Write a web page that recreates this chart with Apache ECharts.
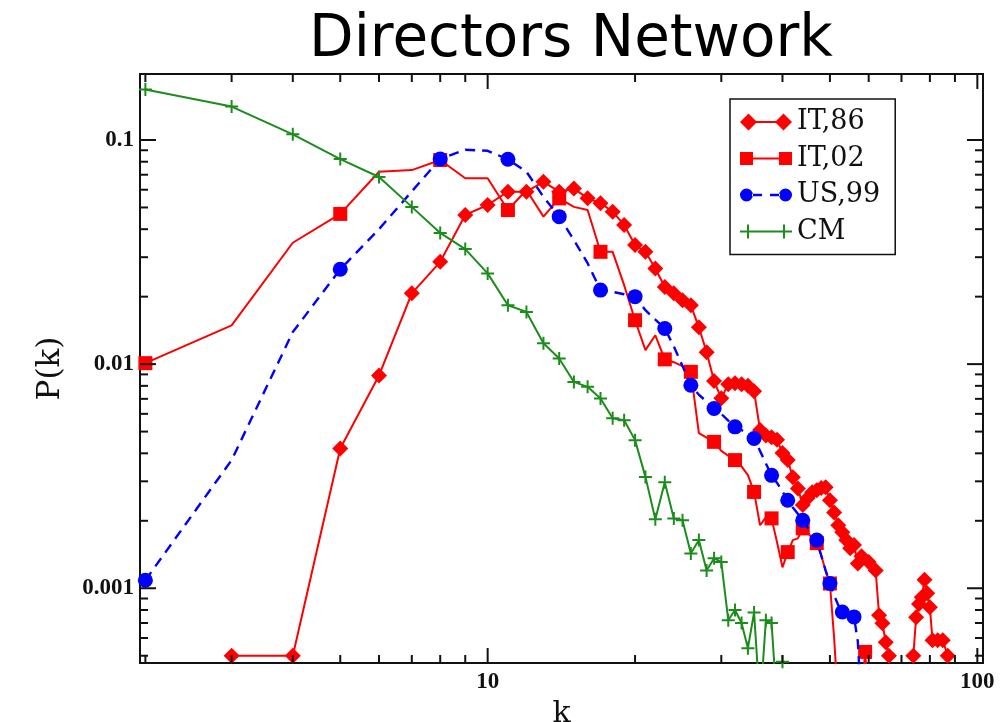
<!DOCTYPE html>
<html>
<head>
<meta charset="utf-8">
<title>Directors Network</title>
<script src="https://cdn.jsdelivr.net/npm/echarts@6/dist/echarts.min.js"></script>
<style>
  html, body { margin: 0; padding: 0; background: #ffffff; }
  #chart { width: 1003px; height: 722px; }
</style>
</head>
<body>
<div id="chart"></div>
<script>
// Degree distributions P(k) of board-of-directors networks (log-log).
const chartTitle = 'Directors Network';
const xAxisName = 'k';
const yAxisName = 'P(k)';
const seriesNames = ['IT,86', 'IT,02', 'US,99', 'CM'];

// [k, P(k)] pairs; '-' marks a gap in the curve
const it86 = [
  [3, 0.0005], [4, 0.0005], [5, 0.0042], [6, 0.0089], [7, 0.0207], [8, 0.0286],
  [9, 0.0463], [10, 0.0513], [11, 0.0588], [12, 0.0588], [13, 0.0651], [14, 0.0588],
  [15, 0.0608], [16, 0.0549], [17, 0.0522], [18, 0.0479], [19, 0.0418], [20, 0.0340],
  [21, 0.0317], [22, 0.0267], [23, 0.0221], [24, 0.0207], [25, 0.0193], [26, 0.0183],
  [27, 0.0146], [28, 0.0113], [29, 0.0084], [30, 0.00705], [31, 0.00814], [32, 0.00822],
  [33, 0.00814], [34, 0.0080], [35, 0.00757], [36, 0.00508], [37, 0.0048], [38, 0.00472],
  [39, 0.0046], [40, 0.00401], [41, 0.00373], [42, 0.00313], [43, 0.00279], [44, 0.00235],
  [45, 0.00252], [46, 0.00268], [47, 0.00274], [48, 0.0028], [49, 0.00282], [50, 0.00247],
  [51, 0.00218], [52, 0.00191], [53, 0.00178], [54, 0.00164], [55, 0.00151], [56, 0.00156],
  [57, 0.00129], [58, 0.00139], [60, 0.00131], [62, 0.0012], [63, 0.000758], [64, 0.000698],
  [65, 0.000574], [66, 0.0005], [70, '-'], [74, 0.0005], [75, 0.000743], [76, 0.00085],
  [77, 0.000912], [78, 0.00109], [79, 0.00095], [80, 0.000822], [81, 0.000586],
  [83, 0.000586], [85, 0.000586], [87, 0.0005]
];

const it02 = [
  [2, 0.0101], [3, 0.0149], [4, 0.0348], [5, 0.0468], [6, 0.0722], [7, 0.0734],
  [8, 0.0814], [9, 0.0675], [10, 0.0675], [11, 0.0487], [12, 0.0598], [13, 0.0455],
  [14, 0.0549], [15, 0.0503], [16, 0.0487], [17, 0.0317], [18, 0.0317], [19, 0.0225],
  [20, 0.0157], [21, 0.01155], [22, 0.01345], [23, 0.0105], [24, 0.0102], [25, 0.0098],
  [26, 0.00924], [27, 0.00492], [28, 0.0047], [29, 0.0045], [30, 0.0041], [31, 0.0039],
  [32, 0.00373], [33, 0.0035], [34, 0.0032], [35, 0.00269], [36, 0.00191], [37, 0.00207],
  [38, 0.00205], [39, 0.0016], [40, 0.00124], [41, 0.00145], [42, 0.00164], [43, 0.00167],
  [44, 0.00185], [45, 0.00178], [46, 0.00167], [47, 0.00159], [48, 0.0014], [49, 0.0012],
  [50, 0.00105], [51, 0.0006], [52, 0.0003], [53, 0.0003], [54, 0.0003], [55, 0.0003],
  [56, 0.0003], [57, 0.0003], [58, 0.0003], [59, 0.00052], [60, 0.0003]
];

const us99 = [
  [2, 0.001086], [3, 0.00373], [4, 0.0139], [5, 0.0265], [6, 0.040], [7, 0.059],
  [8, 0.0823], [9, 0.0905], [10, 0.0895], [11, 0.082], [12, 0.0722], [13, 0.0558],
  [14, 0.0455], [15, 0.0358], [16, 0.0282], [17, 0.0214], [18, 0.021], [19, 0.0205],
  [20, 0.020], [21, 0.0174], [22, 0.0158], [23, 0.01443], [24, 0.012], [25, 0.0098],
  [26, 0.00805], [27, 0.0073], [28, 0.0068], [29, 0.00634], [30, 0.0060], [31, 0.0056],
  [32, 0.00525], [33, 0.00508], [34, 0.00487], [35, 0.00466], [36, 0.0041], [37, 0.0036],
  [38, 0.00319], [39, 0.00295], [40, 0.0027], [41, 0.00247], [42, 0.00229], [43, 0.00215],
  [44, 0.00201], [45, 0.00187], [46, 0.00175], [47, 0.00164], [48, 0.0014], [49, 0.0012],
  [50, 0.00105], [51, 0.00093], [52, 0.00084], [53, 0.000783], [54, 0.00077], [55, 0.00076],
  [56, 0.000745], [57, 0.00058], [58, 0.0003]
];

const cm = [
  [2, 0.168], [3, 0.141], [4, 0.106], [5, 0.0822], [6, 0.0684], [7, 0.0503],
  [8, 0.0385], [9, 0.0326], [10, 0.0254], [11, 0.0183], [12, 0.0171], [13, 0.0124],
  [14, 0.0106], [15, 0.00833], [16, 0.00792], [17, 0.00703], [18, 0.00573], [19, 0.00562],
  [20, 0.00458], [21, 0.00314], [22, 0.00203], [23, 0.00297], [24, 0.00205], [25, 0.00201],
  [26, 0.00143], [27, 0.00164], [28, 0.0012], [29, 0.00136], [30, 0.00131], [31, 0.00072],
  [32, 0.0008], [33, 0.0007], [34, 0.00054], [35, 0.00078], [36, 0.0003], [37, 0.00072],
  [38, 0.0007], [39, 0.0003], [40, 0.00047]
];

// Axis ranges and tick positions
const xRange = [1.95, 102.7];
const yRange = [0.000464, 0.197];
const xMajorTicks = [10, 100];
const xMinorTicks = [2, 3, 4, 5, 6, 7, 8, 9, 20, 30, 40, 50, 60, 70, 80, 90];
const yMajorTicks = [0.001, 0.01, 0.1];
const yMinorTicks = [0.0005, 0.0006, 0.0007, 0.0008, 0.0009,
  0.002, 0.003, 0.004, 0.005, 0.006, 0.007, 0.008, 0.009,
  0.02, 0.03, 0.04, 0.05, 0.06, 0.07, 0.08, 0.09];
const xTickLabels = ['10', '100'];
const yTickLabels = ['0.001', '0.01', '0.1'];

const RED = '#ff0000';
const BLUE = '#0000ff';
const GREEN = '#1c8c1c';
const INK = '#111111';
const SERIF = 'DejaVu Serif';
const TICK_FONT = 'Liberation Serif';

function labelFor(v, values, texts) {
  for (let i = 0; i < values.length; i++) {
    if (Math.abs(v - values[i]) <= values[i] * 1e-6) return texts[i];
  }
  return '';
}

// Tick marks on all four sides of the frame: [x, y, kind]
// kind 0 = x minor, 1 = x major, 2 = y minor, 3 = y major
const tickData = [];
xMinorTicks.forEach(v => tickData.push([v, 0.01, 0]));
xMajorTicks.forEach(v => tickData.push([v, 0.01, 1]));
yMinorTicks.forEach(v => tickData.push([10, v, 2]));
yMajorTicks.forEach(v => tickData.push([10, v, 3]));

function renderTick(params, api) {
  const cs = params.coordSys;
  const kind = api.value(2);
  const style = { stroke: INK, lineWidth: 2 };
  if (kind < 2) {
    const px = api.coord([api.value(0), 0.01])[0];
    const len = kind === 1 ? 15 : 8;
    const bottom = cs.y + cs.height;
    return {
      type: 'group',
      children: [
        { type: 'line', shape: { x1: px, y1: bottom, x2: px, y2: bottom - len }, style },
        { type: 'line', shape: { x1: px, y1: cs.y, x2: px, y2: cs.y + len }, style }
      ]
    };
  }
  const py = api.coord([10, api.value(1)])[1];
  const len = kind === 3 ? 16 : 8;
  const right = cs.x + cs.width;
  return {
    type: 'group',
    children: [
      { type: 'line', shape: { x1: cs.x, y1: py, x2: cs.x + len, y2: py }, style },
      { type: 'line', shape: { x1: right, y1: py, x2: right - len, y2: py }, style }
    ]
  };
}

// Legend keys: a marker at each end joined by the series' line
const iconDiamond = 'path://M0 8.5L8.5 0L17 8.5L8.5 17Z M35 8.5L43.5 0L52 8.5L43.5 17Z M16 7.5H36V9.5H16Z';
const iconSquare = 'path://M0 0H13V13H0Z M39 0H52V13H39Z M12 5.5H40V7.5H12Z';
const iconCircle = 'path://M0 6.5A6.5 6.5 0 1 0 13 6.5A6.5 6.5 0 1 0 0 6.5Z M39 6.5A6.5 6.5 0 1 0 52 6.5A6.5 6.5 0 1 0 39 6.5Z M12 5.3H22V7.7H12Z M30 5.3H40V7.7H30Z';
const iconPlus = 'path://M0 6H52V8H0Z M7 0H9V14H7Z M43 0H45V14H43Z';
const plusSymbol = 'path://M5.5 0H7.5V13H5.5Z M0 5.5H13V7.5H0Z';

const chart = echarts.init(document.getElementById('chart'), null, { renderer: 'canvas' });

chart.setOption({
  animation: false,
  backgroundColor: '#ffffff',
  title: {
    text: chartTitle,
    left: 566,
    top: 7,
    textAlign: 'center',
    textStyle: { fontFamily: 'DejaVu Sans', fontSize: 58, fontWeight: 'normal', color: '#000000' }
  },
  grid: {
    left: 140, top: 74, width: 843, height: 589,
    outerBoundsMode: 'none',
    containLabel: false,
    show: true, borderColor: INK, borderWidth: 2, backgroundColor: 'transparent'
  },
  legend: {
    orient: 'vertical',
    left: 730,
    top: 99,
    padding: [8, 15, 8, 10],
    itemGap: 6.5,
    itemWidth: 52,
    itemHeight: 17,
    borderColor: INK,
    borderWidth: 1.5,
    backgroundColor: '#ffffff',
    selectedMode: false,
    textStyle: { fontFamily: SERIF, fontSize: 27, color: INK, lineHeight: 30 },
    data: [
      { name: seriesNames[0], icon: iconDiamond },
      { name: seriesNames[1], icon: iconSquare },
      { name: seriesNames[2], icon: iconCircle },
      { name: seriesNames[3], icon: iconPlus }
    ]
  },
  xAxis: {
    type: 'log',
    logBase: 10,
    min: xRange[0],
    max: xRange[1],
    name: xAxisName,
    nameLocation: 'middle',
    nameGap: 34,
    nameTextStyle: { fontFamily: SERIF, fontSize: 30, color: INK },
    axisLine: { show: false },
    axisTick: { show: false },
    splitLine: { show: false },
    minorTick: { show: false },
    axisLabel: {
      margin: 8,
      fontFamily: TICK_FONT,
      fontSize: 23,
      fontWeight: 'bold',
      color: INK,
      formatter: v => labelFor(v, xMajorTicks, xTickLabels)
    }
  },
  yAxis: {
    type: 'log',
    logBase: 10,
    min: yRange[0],
    max: yRange[1],
    name: yAxisName,
    nameLocation: 'middle',
    nameGap: 74,
    nameRotate: 90,
    nameTextStyle: { fontFamily: SERIF, fontSize: 31, color: INK },
    axisLine: { show: false },
    axisTick: { show: false },
    splitLine: { show: false },
    minorTick: { show: false },
    axisLabel: {
      margin: 6,
      fontFamily: TICK_FONT,
      fontSize: 23,
      fontWeight: 'bold',
      color: INK,
      formatter: v => labelFor(v, yMajorTicks, yTickLabels)
    }
  },
  series: [
    {
      name: seriesNames[0],
      type: 'line',
      data: it86,
      color: RED,
      symbol: 'diamond',
      symbolSize: 16,
      showSymbol: true,
      connectNulls: false,
      lineStyle: { color: RED, width: 2 },
      itemStyle: { color: RED },
      clip: true,
      z: 3
    },
    {
      name: seriesNames[1],
      type: 'line',
      data: it02,
      color: RED,
      symbol: (val, p) => (p.dataIndex % 3 === 0 ? 'rect' : 'none'),
      symbolSize: 14,
      showSymbol: true,
      lineStyle: { color: RED, width: 2 },
      itemStyle: { color: RED },
      clip: true,
      z: 4
    },
    {
      name: seriesNames[2],
      type: 'line',
      data: us99,
      color: BLUE,
      symbol: (val, p) => (p.dataIndex % 3 === 0 ? 'circle' : 'none'),
      symbolSize: 15,
      showSymbol: true,
      lineStyle: { color: BLUE, width: 2.4, type: [10, 7] },
      itemStyle: { color: BLUE },
      clip: true,
      z: 5
    },
    {
      name: seriesNames[3],
      type: 'line',
      data: cm,
      color: GREEN,
      symbol: plusSymbol,
      symbolSize: 13,
      showSymbol: true,
      lineStyle: { color: GREEN, width: 2 },
      itemStyle: { color: GREEN },
      clip: true,
      z: 6
    },
    {
      name: 'frameTicks',
      type: 'custom',
      data: tickData,
      renderItem: renderTick,
      encode: { x: 0, y: 1 },
      clip: false,
      silent: true,
      z: 10
    }
  ]
});
</script>
</body>
</html>
